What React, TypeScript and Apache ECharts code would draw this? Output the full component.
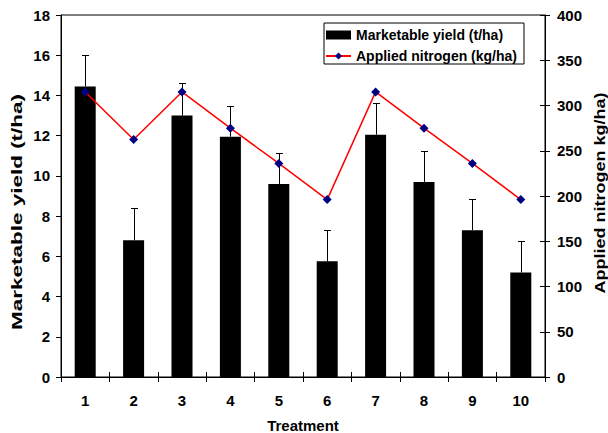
import React, { useEffect, useRef } from "react";
import * as echarts from "echarts";

const treatments = ["1", "2", "3", "4", "5", "6", "7", "8", "9", "10"];
const yieldValues = [14.45, 6.8, 13.0, 11.95, 9.6, 5.75, 12.05, 9.7, 7.3, 5.2];
const yieldErrorTops = [16.0, 8.4, 14.6, 13.5, 11.15, 7.3, 13.6, 11.25, 8.85, 6.75];
const nitrogenValues = [315, 262.5, 315, 275, 236, 196, 315, 275, 236, 196];

const FONT = "Arial, 'Liberation Sans', sans-serif";

export default function App() {
  const ref = useRef<HTMLDivElement>(null);
  useEffect(() => {
    if (!ref.current) return;
    const chart = echarts.init(ref.current, null, { renderer: "svg" });
    const errData = yieldValues.map((v, i) => [i, v, yieldErrorTops[i]]);
    chart.setOption({
      animation: false,
      backgroundColor: "#fff",
      textStyle: { fontFamily: FONT },
      grid: {
        left: 61,
        right: 63,
        top: 15,
        bottom: 56,
        show: true,
        borderColor: "#000",
        borderWidth: 1,
        backgroundColor: "transparent",
      },
      legend: {
        left: 324,
        top: 23,
        orient: "vertical",
        padding: [5, 7, 1, 1],
        itemWidth: 25,
        itemHeight: 9,
        itemGap: 7,
        borderColor: "#000",
        borderWidth: 1,
        backgroundColor: "#fff",
        textStyle: {
          fontFamily: FONT,
          fontWeight: "bold",
          fontSize: 14,
          color: "#000",
          lineHeight: 14,
          padding: [0, 0, 0, 0],
        },
        data: [
          { name: "Marketable yield (t/ha)", icon: "rect" },
          { name: "Applied nitrogen (kg/ha)" },
        ],
      },
      xAxis: [
        {
          type: "category",
          data: treatments,
          position: "bottom",
          axisLine: { show: true, lineStyle: { color: "#000", width: 1 } },
          axisTick: { show: true, length: 5, lineStyle: { color: "#000" } },
          axisLabel: {
            margin: 16,
            fontFamily: FONT,
            fontWeight: "bold",
            fontSize: 15,
            color: "#000",
          },
          splitLine: { show: false },
        },
        {
          type: "category",
          data: treatments,
          position: "bottom",
          axisLine: { show: false },
          axisTick: { show: true, inside: true, length: 5, lineStyle: { color: "#000" } },
          axisLabel: { show: false },
          splitLine: { show: false },
        },
      ],
      yAxis: [
        {
          type: "value",
          min: 0,
          max: 18,
          interval: 2,
          position: "left",
          axisLine: { show: true, lineStyle: { color: "#000", width: 1 } },
          axisTick: { show: true, length: 5, lineStyle: { color: "#000" } },
          axisLabel: {
            margin: 11,
            fontFamily: FONT,
            fontWeight: "bold",
            fontSize: 15,
            color: "#000",
          },
          splitLine: { show: false },
        },
        {
          type: "value",
          min: 0,
          max: 400,
          interval: 50,
          position: "right",
          axisLine: { show: true, lineStyle: { color: "#000", width: 1 } },
          axisTick: { show: true, length: 5, lineStyle: { color: "#000" } },
          axisLabel: {
            margin: 12,
            fontFamily: FONT,
            fontWeight: "bold",
            fontSize: 15,
            color: "#000",
          },
          splitLine: { show: false },
        },
        {
          type: "value",
          min: 0,
          max: 400,
          interval: 50,
          position: "right",
          axisLine: { show: false },
          axisTick: { show: true, inside: true, length: 5, lineStyle: { color: "#000" } },
          axisLabel: { show: false },
          splitLine: { show: false },
        },
      ],
      graphic: [
        {
          type: "text",
          x: 17,
          y: 212,
          rotation: Math.PI / 2,
          scaleX: 1.5,
          style: {
            text: "Marketable yield (t/ha)",
            font: `bold 15px ${FONT}`,
            fill: "#000",
            align: "center",
            verticalAlign: "middle",
          },
        },
        {
          type: "text",
          x: 600,
          y: 193,
          rotation: Math.PI / 2,
          scaleX: 1.2,
          style: {
            text: "Applied nitrogen kg/ha)",
            font: `bold 15px ${FONT}`,
            fill: "#000",
            align: "center",
            verticalAlign: "middle",
          },
        },
        {
          type: "text",
          x: 303,
          y: 425,
          style: {
            text: "Treatment",
            font: `bold 15px ${FONT}`,
            fill: "#000",
            align: "center",
            verticalAlign: "middle",
          },
        },
      ],
      series: [
        {
          name: "Marketable yield (t/ha)",
          type: "bar",
          data: yieldValues,
          xAxisIndex: 0,
          yAxisIndex: 0,
          barWidth: 21,
          itemStyle: { color: "#000" },
          z: 2,
        },
        {
          name: "errbars",
          type: "custom",
          xAxisIndex: 0,
          yAxisIndex: 0,
          data: errData,
          z: 3,
          renderItem: (params: any, api: any) => {
            const i = api.value(0);
            const base = api.coord([i, api.value(1)]);
            const top = api.coord([i, api.value(2)]);
            const x = Math.round(base[0]) + 0.5;
            const ty = Math.round(top[1]) + 0.5;
            return {
              type: "group",
              children: [
                {
                  type: "line",
                  shape: { x1: x, y1: base[1], x2: x, y2: ty },
                  style: { stroke: "#000", lineWidth: 1 },
                },
                {
                  type: "line",
                  shape: { x1: x - 3.5, y1: ty, x2: x + 3.5, y2: ty },
                  style: { stroke: "#000", lineWidth: 1 },
                },
              ],
            };
          },
        },
        {
          name: "Applied nitrogen (kg/ha)",
          type: "line",
          data: nitrogenValues,
          xAxisIndex: 0,
          yAxisIndex: 1,
          symbol: "diamond",
          symbolSize: 9,
          itemStyle: { color: "#000080" },
          lineStyle: { color: "#ff0000", width: 1.5 },
          z: 4,
        },
      ],
    });
    return () => chart.dispose();
  }, []);
  return (
    <div
      ref={ref}
      style={{ position: "fixed", left: 0, top: 0, width: 608, height: 433 }}
    />
  );
}
